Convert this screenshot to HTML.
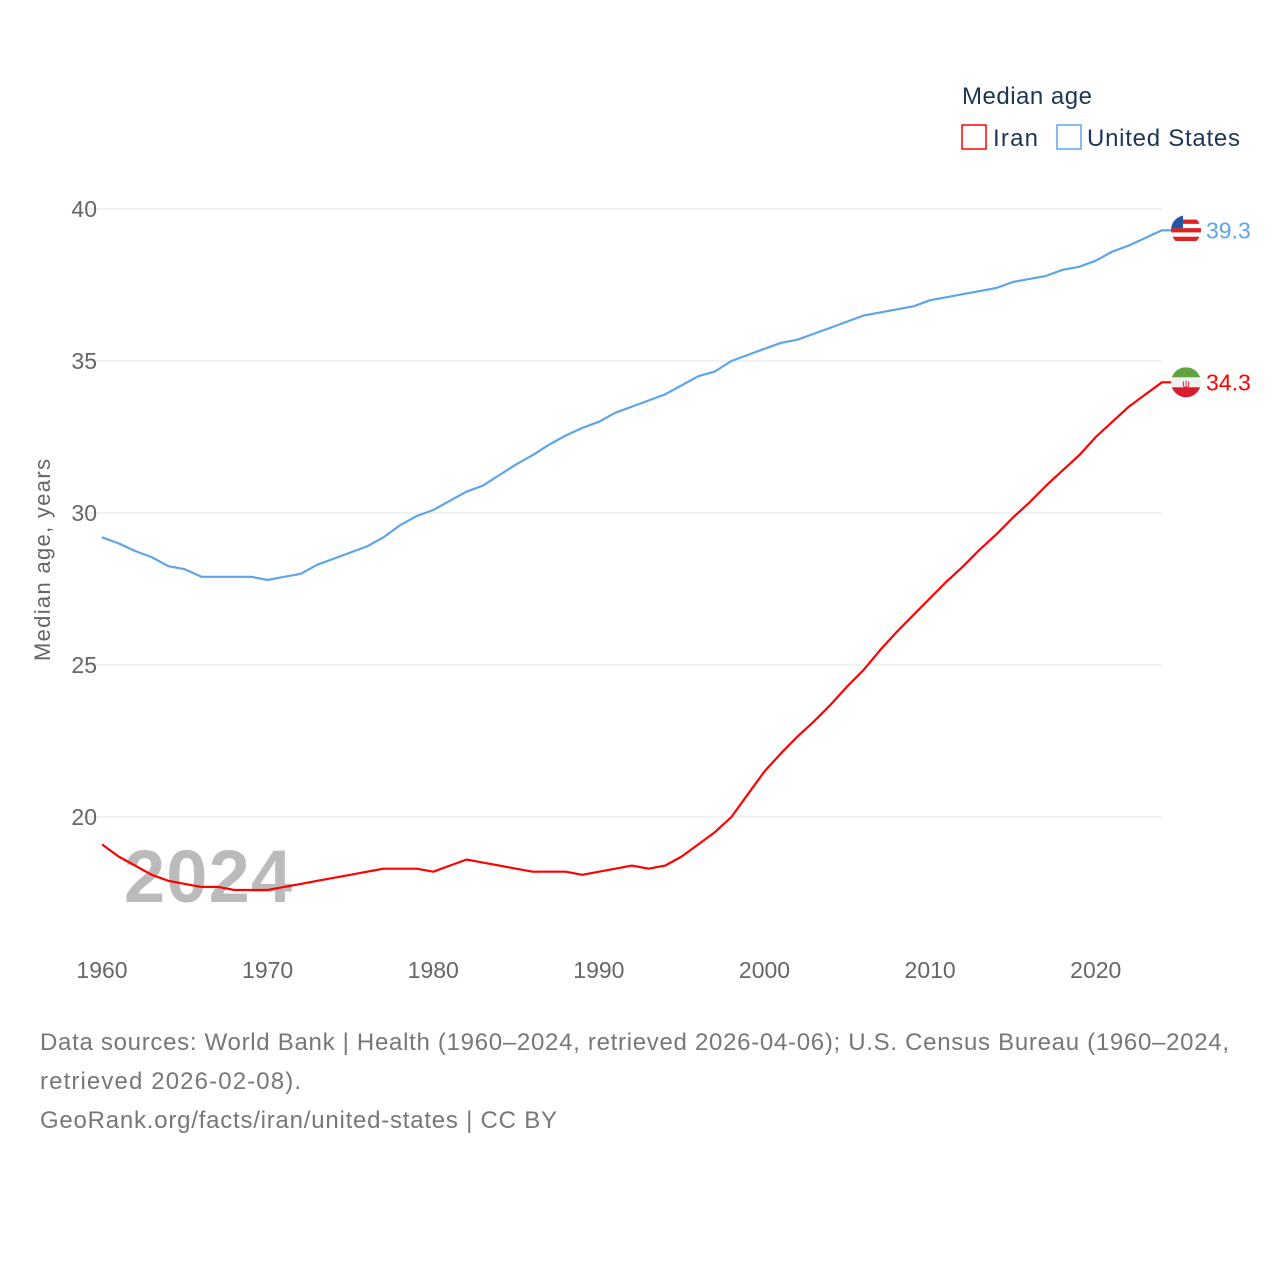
<!DOCTYPE html>
<html><head><meta charset="utf-8"><style>
body{margin:0;background:#fff;width:1280px;height:1280px;overflow:hidden;font-family:"Liberation Sans",sans-serif}
</style></head><body>
<svg width="1280" height="1280" id="chart" font-family="Liberation Sans, sans-serif">
<text x="962" y="104" font-size="24" fill="#1d3557" textLength="130">Median age</text>
<g><rect x="962" y="125" width="24" height="24" fill="none" stroke="#f00" stroke-width="1.5"/><text x="993" y="146" font-size="24" fill="#1d3557" textLength="45">Iran</text></g>
<g><rect x="1057" y="125" width="24" height="24" fill="none" stroke="#5da5e8" stroke-width="1.5"/><text x="1087" y="146" font-size="24" fill="#1d3557" textLength="153">United States</text></g>
<g id="grid"></g><g id="ylabels"></g><g id="xlabels"></g>
<text x="208" y="902" font-size="74" font-weight="bold" fill="#bbb" text-anchor="middle" textLength="168">2024</text>
<text transform="translate(50,560) rotate(-90)" font-size="22" fill="#666" text-anchor="middle" textLength="202">Median age, years</text>
<g id="series"></g>
<text x="40" y="1050" font-size="24" fill="#777" textLength="1189">Data sources: World Bank | Health (1960–2024, retrieved 2026-04-06); U.S. Census Bureau (1960–2024,</text>
<text x="40" y="1089" font-size="24" fill="#777" textLength="261">retrieved 2026-02-08).</text>
<text x="40" y="1128" font-size="24" fill="#777" textLength="517">GeoRank.org/facts/iran/united-states | CC BY</text>
</svg>
<script>
const years=[];for(let y=1960;y<=2024;y++)years.push(y);
const usValues=[29.2,29.0,28.75,28.55,28.25,28.15,27.9,27.9,27.9,27.9,27.8,27.9,28.0,28.3,28.5,28.7,28.9,29.2,29.6,29.9,30.1,30.4,30.7,30.9,31.25,31.6,31.9,32.25,32.55,32.8,33.0,33.3,33.5,33.7,33.9,34.2,34.5,34.65,35.0,35.2,35.4,35.6,35.7,35.9,36.1,36.3,36.5,36.6,36.7,36.8,37.0,37.1,37.2,37.3,37.4,37.6,37.7,37.8,38.0,38.1,38.3,38.6,38.8,39.05,39.3];
const iranValues=[19.1,18.7,18.4,18.1,17.9,17.8,17.7,17.7,17.6,17.6,17.6,17.7,17.8,17.9,18.0,18.1,18.2,18.3,18.3,18.3,18.2,18.4,18.6,18.5,18.4,18.3,18.2,18.2,18.2,18.1,18.2,18.3,18.4,18.3,18.4,18.7,19.1,19.5,20.0,20.75,21.5,22.1,22.65,23.15,23.7,24.3,24.85,25.5,26.1,26.65,27.2,27.75,28.25,28.8,29.3,29.85,30.35,30.9,31.4,31.9,32.5,33.0,33.5,33.9,34.3];
const yTicks=[20,25,30,35,40];
const xTicks=[1960,1970,1980,1990,2000,2010,2020];
const NS='http://www.w3.org/2000/svg';
const xs=y=>102+(y-1960)*(1060/64);
const ys=v=>209+(40-v)*30.4;
function mk(t,a,p){const e=document.createElementNS(NS,t);for(const k in a)e.setAttribute(k,a[k]);p.appendChild(e);return e;}
const grid=document.getElementById('grid'),yl=document.getElementById('ylabels'),xl=document.getElementById('xlabels'),ser=document.getElementById('series');
yTicks.forEach(v=>{
 const l=mk('line',{x1:80,x2:1162,y1:ys(v),y2:ys(v),stroke:'#e6e6e6','stroke-width':1},grid);
 
 
 const t=mk('text',{x:97,y:ys(v)+8,'font-size':23,fill:'#666','text-anchor':'end'},yl);t.textContent=v;
 
 
});
xTicks.forEach(v=>{
 const t=mk('text',{x:xs(v),y:978,'font-size':23,fill:'#666','text-anchor':'middle'},xl);t.textContent=v;
 
 
});
function draw(vals,color,name){
 let d=vals.map((v,i)=>(i?'L':'M')+xs(years[i]).toFixed(1)+','+ys(v).toFixed(1)).join('');
 const last=vals[vals.length-1];
 d+='L1172,'+ys(last).toFixed(1);
 const p=mk('path',{d:d,fill:'none',stroke:color,'stroke-width':2.2,'stroke-linejoin':'round'},ser);
 
 
 const t=mk('text',{x:1206,y:ys(last)+8,'font-size':23,fill:color},ser);t.textContent=last.toFixed(1);
 
 
 return ys(last);
}
const uy=draw(usValues,'#5da5e8','united-states');
const iy=draw(iranValues,'#ff0000','iran');
function flag(cy,name,stripes){
 const g=mk('g',{},ser);
 
 
 const id='c'+name;
 const cp=mk('clipPath',{id:id},g);mk('circle',{cx:1186,cy:cy,r:15},cp);
 const h=30/stripes.length;
 const inner=mk('g',{'clip-path':'url(#'+id+')'},g);
 stripes.forEach((c,i)=>mk('rect',{x:1171,y:cy-15+i*h,width:30,height:h+0.5,fill:c},inner));
 return inner;
}
const ug=flag(uy,'us',['#fff','#d22','#fff','#d22','#fff','#d22','#fff']);
mk('rect',{x:1171,y:uy-15,width:12,height:13,fill:'#2456a6'},ug);
const ig=flag(iy,'iran',['#5fa343','#f2f2f2','#da1c2c']);
const em=mk('text',{x:1186,y:iy+5,'font-size':11,fill:'#da1c2c','text-anchor':'middle'},ig);em.textContent='ψ';
</script>
</body></html>
